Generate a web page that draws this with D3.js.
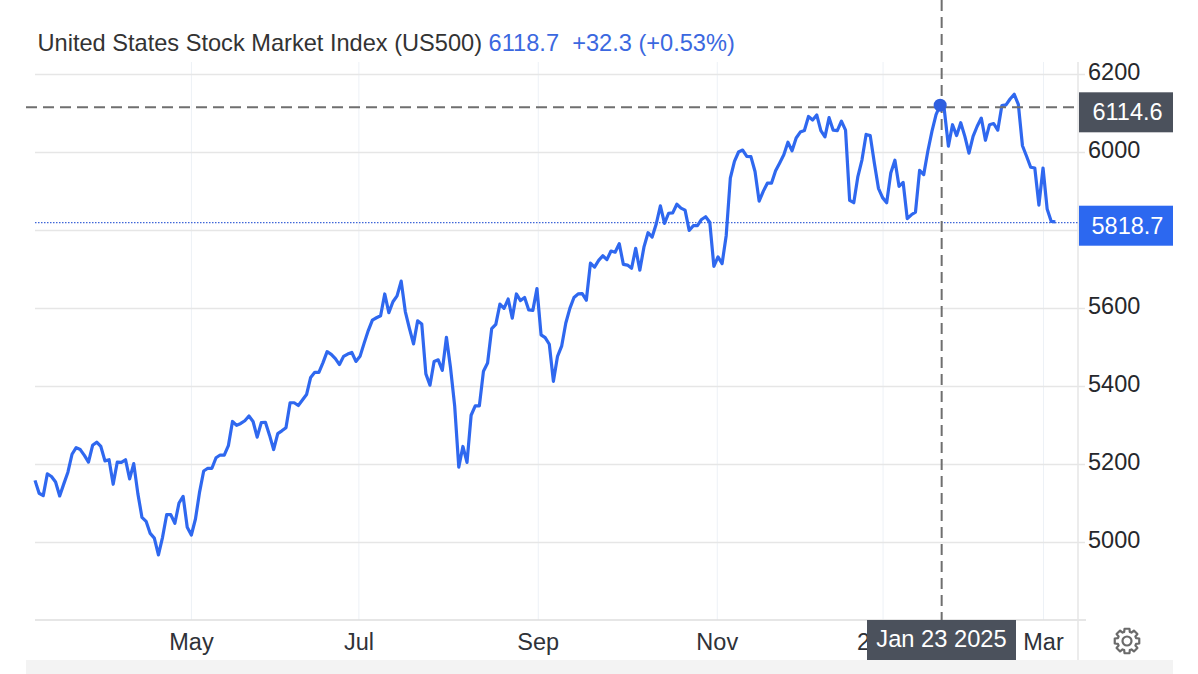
<!DOCTYPE html>
<html>
<head>
<meta charset="utf-8">
<script src="https://cdn.jsdelivr.net/npm/d3@7"></script>
<style>
    html, body { margin: 0; padding: 0; background: #fff; }
    text { font-family: "Liberation Sans", Arial, sans-serif; }
    .tick text { font-size: 23.5px; }
</style>
</head>
<body>
<div id="chart"></div>
<script>
// Daily closes, one per trading day
var closes = [
    5158, 5125, 5119, 5175, 5168, 5154, 5118, 5149, 5179, 5225,
    5242, 5237, 5222, 5205, 5248, 5256, 5245, 5208, 5211, 5148,
    5205, 5204, 5211, 5162, 5201, 5124, 5063, 5053, 5022, 5010,
    4967, 5012, 5070, 5070, 5048, 5100, 5117, 5038, 5018, 5059,
    5128, 5182, 5189, 5189, 5216, 5223, 5223, 5247, 5309, 5299,
    5304, 5311, 5323, 5309, 5269, 5306, 5307, 5274, 5237, 5278,
    5285, 5293, 5357, 5357, 5350, 5364, 5378, 5422, 5435, 5435,
    5460, 5488, 5481, 5470, 5455, 5476, 5482, 5486, 5463, 5476,
    5510, 5542, 5569, 5575, 5580, 5636, 5588, 5616, 5631, 5669,
    5591, 5548, 5508, 5567, 5559, 5431, 5402, 5463, 5467, 5440,
    5525, 5446, 5349, 5192, 5245, 5204, 5325, 5349, 5349, 5438,
    5459, 5547, 5558, 5610, 5599, 5623, 5574, 5636, 5619, 5627,
    5595, 5594, 5650, 5531, 5524, 5507, 5412, 5476, 5502, 5561,
    5599, 5627, 5636, 5637, 5620, 5715, 5705, 5722, 5734, 5724,
    5746, 5743, 5765, 5712, 5710, 5702, 5753, 5697, 5756, 5793,
    5782, 5816, 5862, 5817, 5843, 5844, 5866, 5856, 5851, 5799,
    5811, 5811, 5827, 5834, 5820, 5707, 5731, 5714, 5786, 5933,
    5976, 6000, 6005, 5989, 5988, 5950, 5874, 5899, 5920, 5920,
    5952, 5972, 5993, 6025, 6003, 6036, 6051, 6055, 6091, 6082,
    6095, 6055, 6039, 6088, 6056, 6055, 6079, 6056, 5876, 5870,
    5937, 5980, 6045, 6042, 5972, 5907, 5883, 5870, 5946, 5979,
    5912, 5922, 5829, 5839, 5846, 5953, 5942, 6002, 6053, 6096,
    6120, 6109, 6015, 6070, 6042, 6075, 6040, 5997, 6040, 6066,
    6087, 6030, 6070, 6073, 6056, 6119, 6121, 6136, 6148, 6122,
    6016, 5989, 5961, 5959, 5864, 5959, 5854, 5822, 5821
];

var yTicks = [5000, 5200, 5400, 5600, 5800, 6000, 6200];
var yLabels = [5000, 5200, 5400, 5600, 6000, 6200];
var monthIndex = [37.9, 78.6, 122.2, 165.7, 206, 245];
var monthLabels = ["May", "Jul", "Sep", "Nov", "2025", "Mar"];

var titleName = "United States Stock Market Index (US500)";
var titleQuote = "6118.7  +32.3 (+0.53%)";
var lastClose = 5818.7;
var hoverValue = 6114.6;
var hoverIndex = 220;
var hoverDate = "Jan 23 2025";

var svgWidth = 1198;
var svgHeight = 674;
var margin = { top: 62, right: 120, bottom: 54, left: 35 };
var width = svgWidth - margin.left - margin.right;
var height = svgHeight - margin.top - margin.bottom;

var svg = d3.select("#chart").append("svg")
    .attr("width", svgWidth)
    .attr("height", svgHeight)
    .style("display", "block");

var chartGroup = svg.append("g")
    .attr("transform", `translate(${margin.left}, ${margin.top})`);

var xScale = d3.scaleLinear().domain([0, 253.5]).range([0, width]);
var yScale = d3.scaleLinear().domain([4800, 6200]).range([height, 12]);

// footer strip
svg.append("rect")
    .attr("x", 26).attr("y", 660)
    .attr("width", 1147).attr("height", 14)
    .attr("fill", "#f3f3f3");

// vertical grid
var xGrid = chartGroup.append("g")
    .call(d3.axisBottom(xScale).tickValues(monthIndex).tickSize(height).tickFormat(""));
xGrid.select(".domain").remove();
xGrid.selectAll("line").attr("stroke", "#edf1f6");

// horizontal grid
var yGrid = chartGroup.append("g")
    .attr("transform", `translate(${width + 7}, 0)`)
    .call(d3.axisLeft(yScale).tickValues(yTicks).tickSize(width + 7).tickFormat(""));
yGrid.select(".domain").remove();
yGrid.selectAll("line").attr("stroke", "#e6e6e6").attr("stroke-width", 1.5);

// right and bottom edges
chartGroup.append("line")
    .attr("x1", 0).attr("x2", width + 8)
    .attr("y1", height).attr("y2", height)
    .attr("stroke", "#dedede").attr("stroke-width", 1.5);
chartGroup.append("line")
    .attr("x1", width).attr("x2", width)
    .attr("y1", 0).attr("y2", 660 - margin.top)
    .attr("stroke", "#e6e6e6").attr("stroke-width", 1.5);

// last price line
chartGroup.append("line")
    .attr("x1", 0).attr("x2", width)
    .attr("y1", yScale(lastClose)).attr("y2", yScale(lastClose))
    .attr("stroke", "#3f66d8").attr("stroke-width", 1.2)
    .attr("stroke-dasharray", "1.5 1.5");

// the series
var line = d3.line()
    .x((d, i) => xScale(i))
    .y(d => yScale(d));

chartGroup.append("path")
    .datum(closes)
    .attr("fill", "none")
    .attr("stroke", "#2f68ef")
    .attr("stroke-width", 3.2)
    .attr("stroke-linejoin", "round")
    .attr("d", line);

// crosshair
var crossX = xScale(hoverIndex) + 1.5;
chartGroup.append("line")
    .attr("x1", -9).attr("x2", width)
    .attr("y1", yScale(hoverValue)).attr("y2", yScale(hoverValue))
    .attr("stroke", "#6f6f6f").attr("stroke-width", 2)
    .attr("stroke-dasharray", "11 6");
chartGroup.append("line")
    .attr("x1", crossX).attr("x2", crossX)
    .attr("y1", -62).attr("y2", height)
    .attr("stroke", "#6f6f6f").attr("stroke-width", 2)
    .attr("stroke-dasharray", "11 6");

chartGroup.append("circle")
    .attr("cx", xScale(hoverIndex))
    .attr("cy", yScale(closes[hoverIndex]))
    .attr("r", 6.5)
    .attr("fill", "#2f5fe0");

// axis labels
var bottomAxis = chartGroup.append("g")
    .attr("transform", `translate(0, ${height})`)
    .call(d3.axisBottom(xScale)
        .tickValues(monthIndex)
        .tickSize(0)
        .tickPadding(13)
        .tickFormat((d, i) => monthLabels[i]));
bottomAxis.select(".domain").remove();
bottomAxis.selectAll("text").attr("fill", "#2f3238");

var rightAxis = chartGroup.append("g")
    .attr("transform", `translate(${width}, 0)`)
    .call(d3.axisRight(yScale).tickValues(yLabels).tickSize(0).tickPadding(10).tickFormat(d3.format("d")));
rightAxis.select(".domain").remove();
rightAxis.selectAll("text").attr("fill", "#26282c").attr("dy", "0.24em");

// price flags on the right axis
function priceFlag(value, fill) {
    var flagY = yScale(value) + margin.top;
    var flagMid = value === hoverValue ? flagY + 5 : flagY + 3;
    svg.append("rect")
        .attr("x", 1079).attr("y", flagMid - 20)
        .attr("width", 94).attr("height", 40)
        .attr("fill", fill);
    svg.append("text")
        .attr("x", 1127.5).attr("y", flagMid + 8)
        .attr("text-anchor", "middle")
        .attr("font-size", 23.5)
        .attr("fill", "#fff")
        .text(value.toFixed(1));
}
priceFlag(hoverValue, "#4b515c");
priceFlag(lastClose, "#2c68f0");

// date flag
svg.append("rect")
    .attr("x", 867).attr("y", 620)
    .attr("width", 149).attr("height", 40)
    .attr("fill", "#4b515c");
svg.append("text")
    .attr("x", 941.5).attr("y", 647)
    .attr("text-anchor", "middle")
    .attr("font-size", 23.7)
    .attr("fill", "#fff")
    .text(hoverDate);

// title
var title = svg.append("text")
    .attr("x", 37.5).attr("y", 51)
    .attr("font-size", 23.6)
    .style("white-space", "pre");
title.append("tspan").attr("fill", "#333").text(titleName + " ");
title.append("tspan").attr("fill", "#3b68e0").text(titleQuote);

// settings gear
var gearTeeth = 8;
var gearPoints = [];
d3.range(gearTeeth).forEach(function(i) {
    var a = i * 2 * Math.PI / gearTeeth;
    [[-0.30, 9.5], [-0.20, 12.5], [0.20, 12.5], [0.30, 9.5]].forEach(function(p) {
        gearPoints.push([Math.sin(a + p[0]) * p[1], -Math.cos(a + p[0]) * p[1]]);
    });
});
var gear = svg.append("g")
    .attr("transform", "translate(1127, 641)")
    .attr("fill", "none")
    .attr("stroke", "#6a6a6a")
    .attr("stroke-width", 2.2);
gear.append("path").attr("d", d3.line()(gearPoints) + "Z").attr("stroke-linejoin", "round");
gear.append("circle").attr("r", 4.5);
</script>
</body>
</html>
